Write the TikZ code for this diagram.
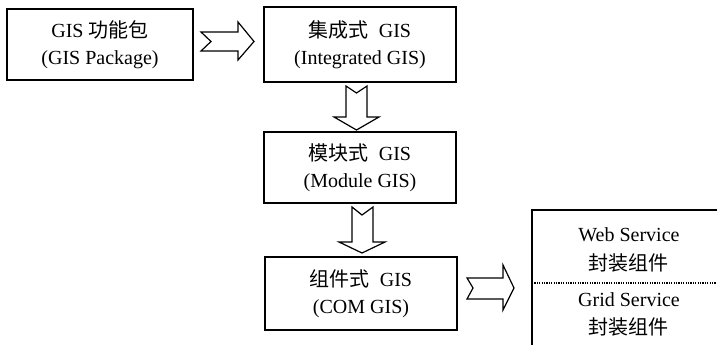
\documentclass[tikz,border=0pt]{standalone}
\usepackage{fontspec}
\setmainfont{Liberation Serif}
\newfontfamily\cjk{Noto Sans CJK SC}
\begin{document}
\begin{tikzpicture}[x=1pt,y=-1pt,
  box/.style={draw, line width=1.3pt, rectangle, align=center, inner sep=0pt,
    font=\fontsize{20}{27}\selectfont},
  blockarrow/.style={draw, line width=1.2pt, line join=miter},
  txt/.style={inner sep=0pt, font=\fontsize{20}{24}\selectfont}]
\useasboundingbox (0,0) rectangle (717,345);
\clip (0,0) rectangle (717,345);
\fill[white] (0,0) rectangle (717,345);

\node[box, minimum width=186pt, minimum height=71pt] (b1) at (100,44.5)
  {GIS {\cjk 功能包}\\(GIS Package)};
\node[box, minimum width=192pt, minimum height=75pt] (b2) at (360,44.5)
  {{\cjk 集成式}\ \ GIS\\(Integrated GIS)};
\node[box, minimum width=192pt, minimum height=71pt] (b3) at (360,167.5)
  {{\cjk 模块式}\ \ GIS\\(Module GIS)};
\node[box, minimum width=192pt, minimum height=73pt] (b4) at (361,293.5)
  {{\cjk 组件式}\ \ GIS\\(COM GIS)};

% right box (clipped by picture edge)
\coordinate (rbtl) at (532,210);
\coordinate (rbbr) at (726,360);
\draw[line width=1.3pt] (rbtl) rectangle (rbbr);
\coordinate (dl) at (532,283);
\coordinate (dr) at (726,283);
\draw[line width=1.3pt, dash pattern=on 1.2pt off 1.2pt] (dl) -- (dr);
\node[txt] (w1) at (629,235) {Web Service};
\node[txt] (w2) at (628,263) {\cjk 封装组件};
\node[txt] (g1) at (629,300) {Grid Service};
\node[txt] (g2) at (628,327) {\cjk 封装组件};

% block arrows
\draw[blockarrow] (201,32) -- (211,41.5) -- (201,51) -- (238,51) -- (238,60)
  -- (254,41.5) -- (238,22) -- (238,32) -- cycle;
\draw[blockarrow] (346,86) -- (356.5,93) -- (367,86) -- (367,117) -- (379,117)
  -- (356.5,130) -- (334,117) -- (346,117) -- cycle;
\draw[blockarrow] (352,207) -- (362,215) -- (373,207) -- (373,242) -- (385,242)
  -- (362,253) -- (339,242) -- (352,242) -- cycle;
\draw[blockarrow] (467,278) -- (473,288) -- (467,299) -- (503,299) -- (503,310)
  -- (514,288) -- (503,265) -- (503,278) -- cycle;
\end{tikzpicture}
\end{document}
